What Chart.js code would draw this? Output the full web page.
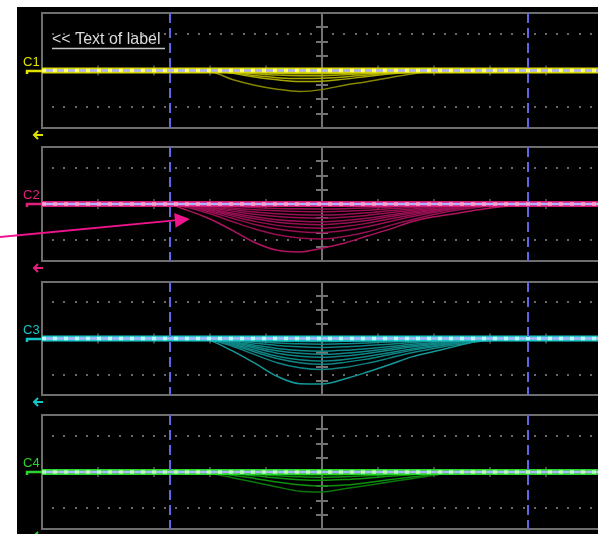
<!DOCTYPE html>
<html><head><meta charset="utf-8">
<script src="https://cdn.jsdelivr.net/npm/chart.js@4/dist/chart.umd.min.js"></script>
<style>
html,body{margin:0;padding:0;background:#fff;width:598px;height:534px;overflow:hidden;position:relative;}
#scope{position:absolute;left:17px;top:7px;width:581px;height:527px;background:#000;}
canvas{position:absolute;left:0;}
</style></head><body>
<div id="scope"></div>
<canvas id="ch1" width="598" height="133" style="top:7px"></canvas>
<canvas id="ch2" width="598" height="135" style="top:140px"></canvas>
<canvas id="ch3" width="598" height="133" style="top:275px"></canvas>
<canvas id="ch4" width="598" height="126" style="top:408px"></canvas>
<script>
// ---- data (x in horizontal divisions, y in vertical divisions) ----
const xDiv = [0, 2.2, 2.6, 3.0, 3.4, 3.8, 4.2, 4.6, 5.0, 5.4, 5.8, 6.2, 6.6, 7.0, 7.4, 7.8, 8.2, 8.6, 9.93];
const channels = ['C1', 'C2', 'C3', 'C4'];
const labelText = '<< Text of label';
const baseX = [0, 9.93];
const baseY = [0, 0];
const cursorX = [2.29, 8.68];
const dotRows = [2.55, -2.55];

const c1Traces = [
  [0,0,0,-0.07,-0.62,-1.02,-1.3,-1.46,-1.33,-1.02,-0.78,-0.5,-0.24,-0.04,0,0,0,0,0],
  [0,0,0,0,-0.2,-0.45,-0.65,-0.77,-0.75,-0.6,-0.42,-0.25,-0.12,-0.04,0,0,0,0,0],
  [0,0,0,-0.02,-0.15,-0.35,-0.5,-0.56,-0.54,-0.45,-0.32,-0.2,-0.1,-0.03,0,0,0,0,0],
  [0,0,0,-0.02,-0.1,-0.22,-0.32,-0.36,-0.36,-0.3,-0.22,-0.14,-0.07,-0.02,0,0,0,0,0],
  [0,0,0,0,-0.06,-0.13,-0.19,-0.22,-0.22,-0.19,-0.14,-0.09,-0.05,-0.02,0,0,0,0,0]
];
const c2Traces = [
  [0,0,-0.45,-1.05,-1.85,-2.7,-3.25,-3.37,-3.1,-2.75,-2.25,-1.78,-1.25,-0.9,-0.66,-0.4,-0.2,-0.07,0],
  [0,0,-0.25,-0.69,-1.23,-1.76,-2.16,-2.38,-2.45,-2.28,-1.96,-1.52,-1.1,-0.74,-0.44,-0.22,-0.07,0,0],
  [0,0,-0.2,-0.56,-1.0,-1.44,-1.76,-1.94,-2.0,-1.86,-1.6,-1.24,-0.9,-0.6,-0.36,-0.18,-0.06,0,0],
  [0,0,-0.17,-0.48,-0.85,-1.22,-1.5,-1.65,-1.7,-1.58,-1.36,-1.05,-0.77,-0.51,-0.31,-0.15,-0.05,0,0],
  [0,0,-0.15,-0.41,-0.73,-1.04,-1.28,-1.41,-1.45,-1.35,-1.16,-0.9,-0.65,-0.44,-0.26,-0.13,-0.04,0,0],
  [0,0,-0.13,-0.35,-0.63,-0.9,-1.1,-1.21,-1.25,-1.16,-1.0,-0.78,-0.56,-0.38,-0.23,-0.11,-0.04,0,0],
  [0,0,-0.1,-0.28,-0.5,-0.72,-0.88,-0.97,-1.0,-0.93,-0.8,-0.62,-0.45,-0.3,-0.18,-0.09,-0.03,0,0],
  [0,0,-0.08,-0.22,-0.39,-0.56,-0.69,-0.76,-0.78,-0.73,-0.62,-0.48,-0.35,-0.23,-0.14,-0.07,-0.02,0,0],
  [0,0,-0.06,-0.15,-0.28,-0.4,-0.48,-0.53,-0.55,-0.51,-0.44,-0.34,-0.25,-0.17,-0.1,-0.05,-0.02,0,0],
  [0,0,-0.04,-0.1,-0.18,-0.25,-0.31,-0.34,-0.35,-0.33,-0.28,-0.22,-0.16,-0.11,-0.06,-0.03,-0.01,0,0]
];
const c3Traces = [
  [0,0,0,-0.15,-0.88,-1.75,-2.68,-3.2,-3.22,-2.87,-2.39,-1.86,-1.3,-0.92,-0.54,-0.17,-0.02,0,0],
  [0,0,0,-0.11,-0.55,-1.14,-1.72,-2.07,-2.2,-2.05,-1.76,-1.39,-1.01,-0.7,-0.44,-0.22,-0.09,0,0],
  [0,0,0,-0.09,-0.46,-0.95,-1.42,-1.71,-1.82,-1.69,-1.46,-1.15,-0.84,-0.58,-0.36,-0.18,-0.07,0,0],
  [0,0,0,-0.08,-0.4,-0.83,-1.25,-1.5,-1.6,-1.49,-1.28,-1.01,-0.74,-0.51,-0.32,-0.16,-0.06,0,0],
  [0,0,0,-0.07,-0.33,-0.69,-1.04,-1.25,-1.33,-1.24,-1.06,-0.84,-0.61,-0.43,-0.27,-0.13,-0.05,0,0],
  [0,0,0,-0.06,-0.28,-0.58,-0.87,-1.05,-1.12,-1.04,-0.9,-0.71,-0.52,-0.36,-0.22,-0.11,-0.04,0,0],
  [0,0,0,-0.05,-0.23,-0.47,-0.7,-0.85,-0.9,-0.84,-0.72,-0.57,-0.41,-0.29,-0.18,-0.09,-0.04,0,0],
  [0,0,0,-0.03,-0.16,-0.33,-0.49,-0.59,-0.63,-0.59,-0.5,-0.4,-0.29,-0.2,-0.13,-0.06,-0.03,0,0],
  [0,0,0,-0.02,-0.1,-0.21,-0.31,-0.38,-0.4,-0.37,-0.32,-0.25,-0.18,-0.13,-0.08,-0.04,-0.02,0,0],
  [0,0,0,-0.01,-0.06,-0.11,-0.17,-0.21,-0.22,-0.2,-0.18,-0.14,-0.1,-0.07,-0.04,-0.02,-0.01,0,0]
];
const c4Traces = [
  [0,0,0,-0.1,-0.4,-0.72,-1.05,-1.35,-1.4,-1.18,-0.95,-0.7,-0.47,-0.22,-0.05,0,0,0,0],
  [0,0,0,-0.05,-0.22,-0.45,-0.7,-0.9,-1.0,-0.92,-0.75,-0.55,-0.35,-0.18,-0.06,0,0,0,0],
  [0,0,0,-0.03,-0.13,-0.27,-0.42,-0.54,-0.58,-0.53,-0.43,-0.3,-0.19,-0.09,-0.03,0,0,0,0],
  [0,0,0,-0.02,-0.08,-0.17,-0.26,-0.33,-0.36,-0.33,-0.27,-0.19,-0.12,-0.06,-0.02,0,0,0,0],
  [0,0,0,-0.01,-0.05,-0.1,-0.15,-0.19,-0.2,-0.18,-0.15,-0.1,-0.06,-0.03,-0.01,0,0,0,0]
];

// ---- styles ----
const palette = [
  {label:'#e2e200', deep:'#858500', trace:'#a8a800', band:'#d6d600', dash:'#ffff70'},
  {label:'#e0207c', deep:'#b01460', trace:'#960f52', band:'#d41a74', dash:'#ffa0cc'},
  {label:'#16c4c4', deep:'#149898', trace:'#0f8484', band:'#1ac8c8', dash:'#b0ffff'},
  {label:'#2cd42c', deep:'#0b760b', trace:'#0e900e', band:'#28d828', dash:'#b0ffb0'}
];
const layouts = [
  {top:6, bottom:12},
  {top:7, bottom:14},
  {top:7, bottom:13},
  {top:7, bottom:5}
];
const arrowTip = {x:2.64, y:-1.05};

const scopePlugin = {
  id: 'scope',
  beforeDatasetsDraw(chart) {
    const {ctx, chartArea:a, scales:{x, y}} = chart;
    ctx.save();
    ctx.fillStyle = '#686868';
    for (const v of dotRows) {
      const py = Math.round(y.getPixelForValue(v));
      for (let k = 1; k < 50; k++) {
        const px = Math.round(x.getPixelForValue(k * 0.2));
        if (px > a.right) break;
        ctx.fillRect(px - 1, py - 1, 2, 2);
      }
    }
    ctx.strokeStyle = '#727272';
    ctx.lineWidth = 2;
    const cx = Math.round(x.getPixelForValue(5));
    ctx.beginPath(); ctx.moveTo(cx, a.top); ctx.lineTo(cx, a.bottom); ctx.stroke();
    for (const v of [-3, -2, -1, 1, 2, 3]) {
      const py = Math.round(y.getPixelForValue(v));
      ctx.beginPath(); ctx.moveTo(cx - 6, py); ctx.lineTo(cx + 6, py); ctx.stroke();
    }
    const cy = y.getPixelForValue(0);
    ctx.lineWidth = 1.5;
    ctx.strokeStyle = '#5e5e5e';
    for (let k = 1; k < 10; k++) {
      if (k === 5) continue;
      const px = Math.round(x.getPixelForValue(k));
      ctx.beginPath(); ctx.moveTo(px, cy - 5); ctx.lineTo(px, cy + 5); ctx.stroke();
    }
    ctx.lineWidth = 2;
    ctx.strokeStyle = '#6e6e6e';
    ctx.strokeRect(a.left, a.top, a.right - a.left + 10, a.bottom - a.top);
    ctx.restore();
  },
  afterDatasetsDraw(chart) {
    const {ctx, chartArea:a, scales:{x}} = chart;
    ctx.save();
    ctx.strokeStyle = '#6464e6';
    ctx.lineWidth = 2;
    ctx.setLineDash([10, 5]);
    for (const v of cursorX) {
      const px = Math.round(x.getPixelForValue(v));
      ctx.beginPath(); ctx.moveTo(px, a.top); ctx.lineTo(px, a.bottom); ctx.stroke();
    }
    ctx.restore();
  },
  afterDraw(chart) {
    const {ctx, chartArea:a, scales:{x, y}} = chart;
    const idx = chart.options.plugins.scope.index;
    const col = palette[idx];
    const cy = Math.round(y.getPixelForValue(0));
    ctx.save();
    ctx.fillStyle = col.label;
    ctx.font = '13px "Liberation Sans", Arial, sans-serif';
    ctx.textBaseline = 'alphabetic';
    ctx.fillText(channels[idx], 23, cy - 5);
    ctx.strokeStyle = col.label;
    ctx.lineWidth = 2.5;
    ctx.beginPath(); ctx.moveTo(27, cy + 3); ctx.lineTo(27, cy); ctx.lineTo(42, cy); ctx.stroke();
    const ay = a.bottom + 7;
    ctx.lineWidth = 2;
    ctx.beginPath(); ctx.moveTo(34, ay); ctx.lineTo(43, ay); ctx.stroke();
    ctx.beginPath(); ctx.moveTo(38, ay - 4); ctx.lineTo(34, ay); ctx.lineTo(38, ay + 4); ctx.stroke();
    if (idx === 0) {
      ctx.fillStyle = '#dcdcdc';
      ctx.font = '16px "Liberation Sans", Arial, sans-serif';
      ctx.fillText(labelText, 52, a.top + 31);
      ctx.strokeStyle = '#c4c4c4';
      ctx.lineWidth = 1.6;
      ctx.beginPath(); ctx.moveTo(52, a.top + 35.5); ctx.lineTo(165, a.top + 35.5); ctx.stroke();
    }
    if (idx === 1) {
      const tx = x.getPixelForValue(arrowTip.x), ty = y.getPixelForValue(arrowTip.y);
      const sx = 0, sy = ty + 18;
      const ang = Math.atan2(ty - sy, tx - sx);
      const hl = 15, hw = 7.5;
      const bx = tx - hl * Math.cos(ang), by = ty - hl * Math.sin(ang);
      ctx.strokeStyle = '#f0148c';
      ctx.fillStyle = '#f0148c';
      ctx.lineWidth = 2;
      ctx.beginPath(); ctx.moveTo(sx, sy); ctx.lineTo(bx, by); ctx.stroke();
      ctx.beginPath();
      ctx.moveTo(tx, ty);
      ctx.lineTo(bx - hw * Math.sin(ang), by + hw * Math.cos(ang));
      ctx.lineTo(bx + hw * Math.sin(ang), by - hw * Math.cos(ang));
      ctx.closePath(); ctx.fill();
    }
    ctx.restore();
  }
};

function buildChart(id, idx, traces) {
  const col = palette[idx];
  const base = baseX.map((v, i) => ({x: v, y: baseY[i]}));
  const datasets = [
    {data: base, borderColor: col.dash, borderWidth: 3.5, borderDash: [4, 7], order: 0},
    {data: base, borderColor: '#b4b4ff', borderWidth: 2.5, order: 1},
    {data: base, borderColor: col.band, borderWidth: 6, order: 2}
  ];
  traces.forEach((t, i) => {
    datasets.push({
      data: xDiv.map((v, j) => ({x: v, y: t[j]})),
      borderColor: i === 0 ? col.deep : col.trace,
      borderWidth: 1.5,
      cubicInterpolationMode: 'monotone',
      order: 3 + i
    });
  });
  datasets.forEach(d => { d.pointRadius = 0; d.fill = false; });
  return new Chart(document.getElementById(id), {
    type: 'line',
    data: {datasets},
    options: {
      responsive: false,
      animation: false,
      devicePixelRatio: 1,
      layout: {padding: {left: 42, right: 0, top: layouts[idx].top, bottom: layouts[idx].bottom}},
      scales: {
        x: {type: 'linear', min: 0, max: 9.93, display: false},
        y: {type: 'linear', min: -4, max: 4, display: false}
      },
      plugins: {legend: {display: false}, tooltip: {enabled: false}, scope: {index: idx}}
    },
    plugins: [scopePlugin]
  });
}

buildChart('ch1', 0, c1Traces);
buildChart('ch2', 1, c2Traces);
buildChart('ch3', 2, c3Traces);
buildChart('ch4', 3, c4Traces);
</script>
</body></html>
